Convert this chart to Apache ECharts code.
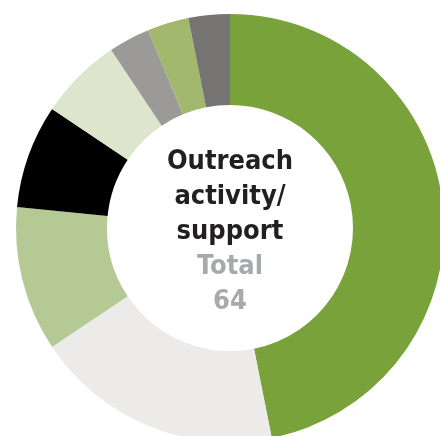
<!DOCTYPE html>
<html>
<head>
<meta charset="utf-8">
<script src="https://cdn.jsdelivr.net/npm/echarts@6/dist/echarts.min.js"></script>
<style>
  html, body { margin: 0; padding: 0; background: #fff; }
  #chart { width: 440px; height: 436px; }
</style>
</head>
<body>
<div id="chart"></div>
<script>
// slices clockwise from 12 o'clock
const categories = ['A', 'B', 'C', 'D', 'E', 'F', 'G', 'H']
const values = [30, 12, 7, 5, 4, 2, 2, 2]
const colors = ['#7aa23b', '#ecebe9', '#b5c994', '#000000', '#dde5cc', '#9b9a99', '#a1b86d', '#767472']
const titleLines = ['Outreach', 'activity/', 'support']
const totalLines = ['Total', '64']

const chart = echarts.init(document.getElementById('chart'))

const centerText =
  titleLines.map((t) => '{a|' + t + '}').join('\n') + '\n' +
  totalLines.map((t) => '{b|' + t + '}').join('\n')

chart.setOption({
  animation: false,
  graphic: [
    {
      type: 'text',
      x: 230,
      y: 144,
      style: {
        text: centerText,
        textAlign: 'center',
        rich: {
          a: { fontFamily: 'DejaVu Sans Condensed', fontWeight: 'bold', fontSize: 27, lineHeight: 35, fill: '#231f20' },
          b: { fontFamily: 'DejaVu Sans Condensed', fontWeight: 'bold', fontSize: 27, lineHeight: 35, fill: '#a7a9ac' },
        },
      },
    },
  ],
  series: [
    {
      type: 'pie',
      center: [230, 228],
      radius: [123, 214],
      startAngle: 90,
      clockwise: true,
      silent: true,
      label: { show: false },
      labelLine: { show: false },
      itemStyle: { borderWidth: 0 },
      data: categories.map((name, i) => ({
        name,
        value: values[i],
        itemStyle: { color: colors[i] },
      })),
    },
  ],
})
</script>
</body>
</html>
